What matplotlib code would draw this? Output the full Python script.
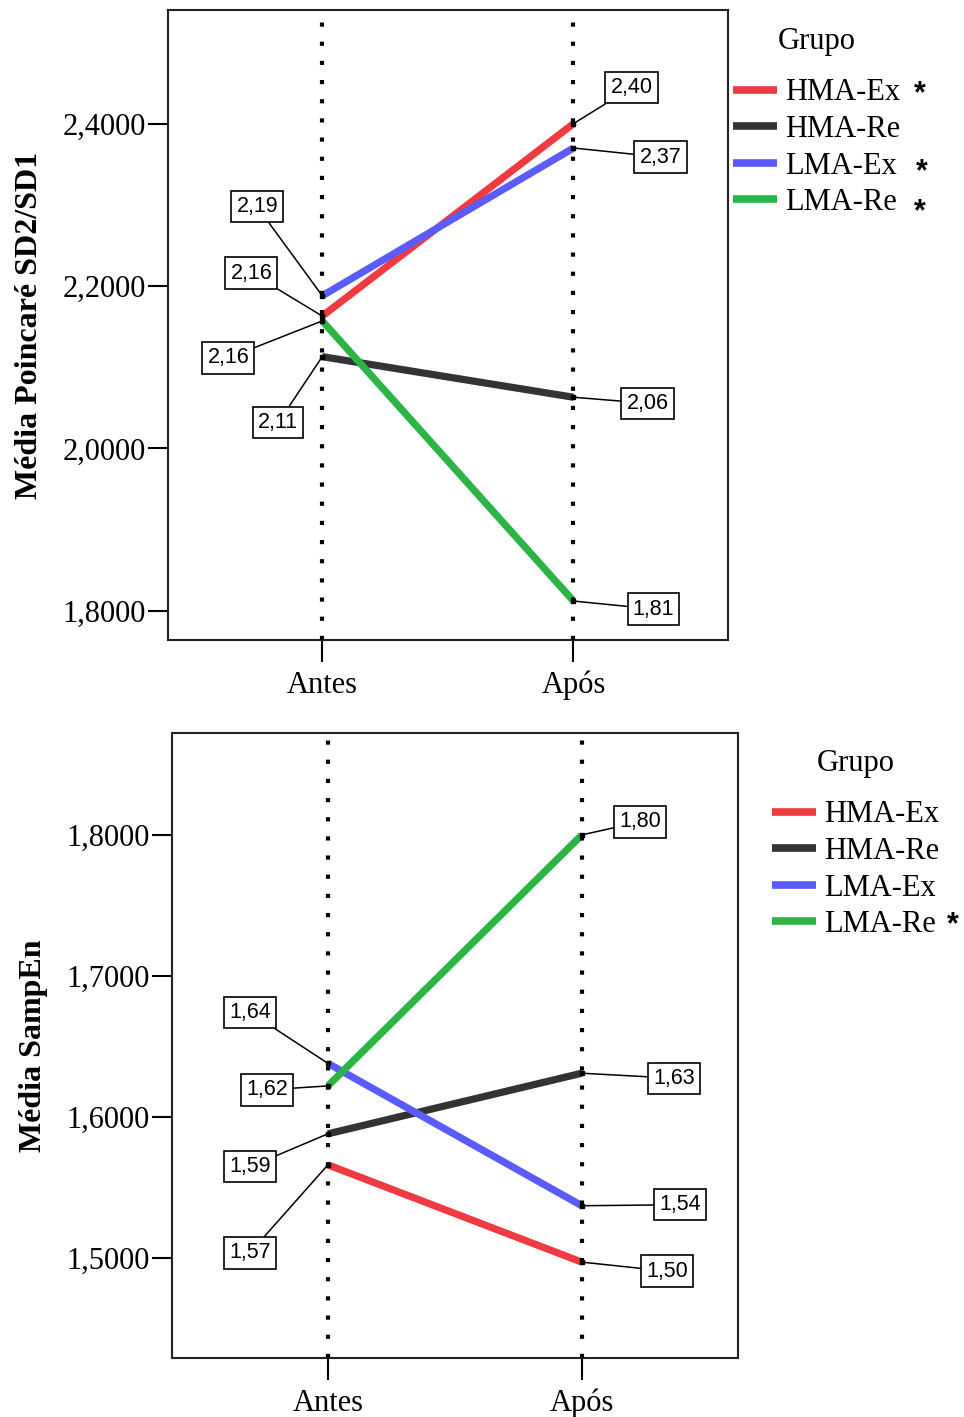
import matplotlib
matplotlib.use("Agg")
import matplotlib.pyplot as plt
from matplotlib.ticker import FuncFormatter

# ---------------- data ----------------
time_points = ["Antes", "Após"]
groups = ["HMA-Ex", "HMA-Re", "LMA-Ex", "LMA-Re"]
colors = ["#EE3A40", "#333333", "#5A5CFF", "#2DB446"]

poincare_antes = [2.163, 2.113, 2.188, 2.157]
poincare_apos = [2.400, 2.063, 2.370, 1.812]
poincare_star = [True, False, True, True]

sampen_antes = [1.566, 1.588, 1.638, 1.622]
sampen_apos = [1.497, 1.631, 1.537, 1.800]
sampen_star = [False, False, False, True]

poincare_ticks = [1.8, 2.0, 2.2, 2.4]
sampen_ticks = [1.5, 1.6, 1.7, 1.8]

# label offsets in pixels (dx, dy) for (antes, apos) per group
poincare_offsets = [((-71, 43), (58, 36)), ((-44, -66), (74, -6)),
                    ((-65, 89), (87, -9)), ((-94, -37), (80, -8))]
sampen_offsets = [((-78, -88), (85, -9)), ((-78, -33), (92, -5)),
                  ((-78, 51), (98, 1)), ((-61, -4), (58, 13))]

SERIF = ["Liberation Serif", "DejaVu Serif"]
SANS = ["Liberation Sans", "DejaVu Sans"]

fig = plt.figure(figsize=(9.64, 14.17), dpi=100)

W, H = 964, 1417


def add_ax(l, t, r, b):
    return fig.add_axes([l / W, 1 - b / H, (r - l) / W, (b - t) / H])


def draw_panel(ax, antes, apos, offsets, ticks, ylim, ylabel):
    x = [0, 1]
    for g, c, a, p, offs in zip(groups, colors, antes, apos, offsets):
        ax.plot(x, [a, p], color=c, lw=5.2, solid_capstyle="butt", zorder=3, label=g)
        ax.plot(x, [a, p], ls="none", marker="s", ms=3.2, color="black", zorder=5)
        for xi, yi, off in zip(x, [a, p], offs):
            ax.annotate(f"{yi:.2f}".replace(".", ","), xy=(xi, yi),
                        xytext=off, textcoords="offset pixels",
                        ha="center", va="center", fontsize=15.5, family=SANS,
                        bbox=dict(boxstyle="square,pad=0.24", fc="white", ec="black", lw=1.2),
                        arrowprops=dict(arrowstyle="-", color="black", lw=1.1,
                                        shrinkA=0, shrinkB=0),
                        zorder=6)
    for xi in x:
        ax.axvline(xi, color="black", lw=3.0, ls=(0, (1, 3.6)), zorder=4)
    ax.set_xlim(-0.614, 1.615)
    ax.set_ylim(*ylim)
    ax.set_xticks(x)
    ax.set_xticklabels(time_points, family=SERIF, fontsize=22)
    ax.set_yticks(ticks)
    ax.yaxis.set_major_formatter(FuncFormatter(lambda v, _: f"{v:.4f}".replace(".", ",")))
    for lab in ax.get_yticklabels():
        lab.set_family(SERIF)
        lab.set_fontsize(22)
    ax.tick_params(axis="y", direction="out", length=14.5, width=1.5, pad=1.5)
    ax.tick_params(axis="x", direction="out", length=16, width=1.5, pad=6)
    for s in ax.spines.values():
        s.set_linewidth(1.5)
        s.set_color("#222222")
    ax.set_ylabel(ylabel, family=SERIF, fontsize=23, fontweight="bold", labelpad=13)


ax1 = add_ax(168, 10, 728, 640)
draw_panel(ax1, poincare_antes, poincare_apos, poincare_offsets, poincare_ticks,
           (1.764, 2.540), "Média Poincaré SD2/SD1")
ax2 = add_ax(172, 733, 738, 1358)
draw_panel(ax2, sampen_antes, sampen_apos, sampen_offsets, sampen_ticks,
           (1.429, 1.8723), "Média SampEn")


def add_legend(ax, x0, y0):
    leg = ax.legend(loc="upper left", bbox_to_anchor=(x0 / W, 1 - y0 / H),
                    bbox_transform=fig.transFigure, frameon=False,
                    title="Grupo", prop=dict(family=SERIF, size=22),
                    handlelength=1.45, handletextpad=0.25, labelspacing=0.25,
                    borderaxespad=0, borderpad=0)
    leg.get_title().set_family(SERIF)
    leg.get_title().set_fontsize(22)
    for line in leg.get_lines():
        line.set_linewidth(5.5)
    leg._legend_box.sep = 16
    return leg


leg1 = add_legend(ax1, 733, 27)
leg2 = add_legend(ax2, 772, 749)

# significance asterisks next to legend entries
star_rows1 = [94, 131, 172, 212]
star_x1 = [920, 920, 922, 920]
star_rows2 = [815, 852, 889, 925]
for s, yy, xx in zip(poincare_star, star_rows1, star_x1):
    if s:
        fig.text(xx / W, 1 - yy / H, "*", family=SANS, fontsize=22,
                 ha="center", va="center", fontweight="bold")
for s, yy in zip(sampen_star, star_rows2):
    if s:
        fig.text(953 / W, 1 - yy / H, "*", family=SANS, fontsize=22,
                 ha="center", va="center", fontweight="bold")

fig.savefig("out.png", dpi=100)
